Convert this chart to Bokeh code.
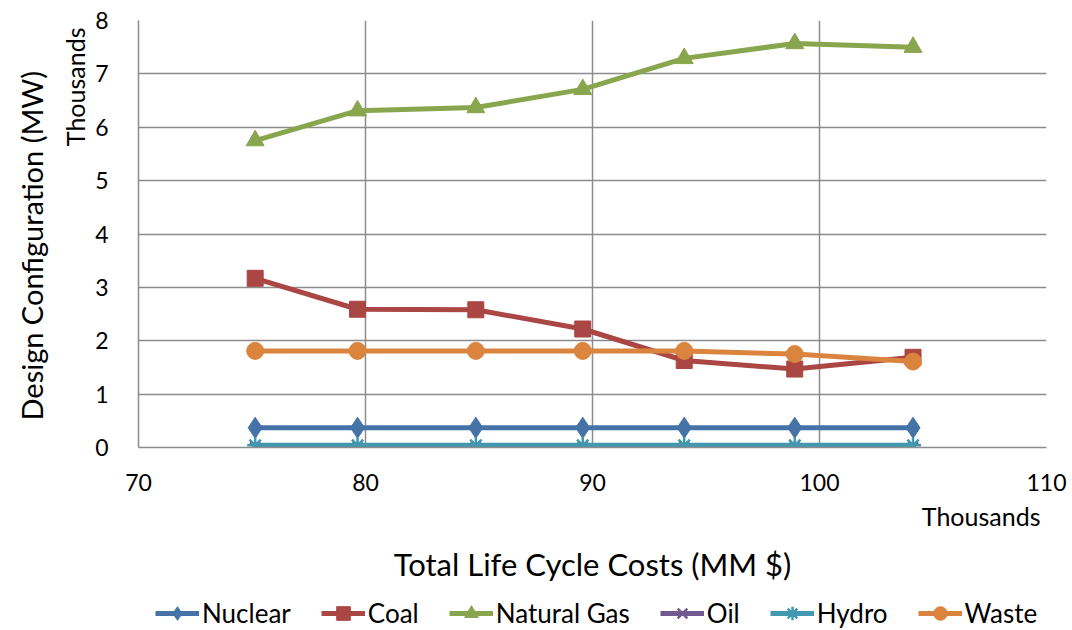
from bokeh.embed import file_html
from bokeh.layouts import column
from bokeh.models import FixedTicker, Legend, LegendItem, Title
from bokeh.plotting import figure
from bokeh.resources import INLINE

# Total life cycle costs (thousands of MM $) for each design configuration
cost = [75.14, 79.65, 84.86, 89.57, 94.04, 98.91, 104.12]

# Installed capacity per source (thousands of MW)
nuclear = [0.37, 0.37, 0.37, 0.37, 0.37, 0.37, 0.37]
coal = [3.17, 2.59, 2.58, 2.22, 1.63, 1.47, 1.69]
natural_gas = [5.75, 6.31, 6.37, 6.71, 7.29, 7.57, 7.50]
oil = [0.01, 0.01, 0.01, 0.01, 0.01, 0.01, 0.01]
hydro = [0.04, 0.04, 0.04, 0.04, 0.04, 0.04, 0.04]
waste = [1.81, 1.81, 1.81, 1.81, 1.81, 1.75, 1.61]

x_ticks = [70, 80, 90, 100, 110]
y_ticks = [0, 1, 2, 3, 4, 5, 6, 7, 8]

FONT = "Lato"
GRID = "#8c8c8c"

p = figure(
    width=1072, height=588,
    x_range=(70, 110), y_range=(0, 8),
    output_backend="svg", toolbar_location=None,
    min_border_left=138, min_border_right=26,
    min_border_top=20, min_border_bottom=141,
    background_fill_color="white", border_fill_color="white",
)
p.outline_line_color = None

for ax in (p.xaxis[0], p.yaxis[0]):
    ax.axis_line_color = GRID
    ax.axis_line_width = 1.5
    ax.major_tick_line_color = None
    ax.minor_tick_line_color = None
    ax.major_label_text_font = FONT
    ax.major_label_text_font_size = "23px"
    ax.major_label_text_color = "#000000"
    ax.major_label_standoff = 20

p.xaxis.ticker = FixedTicker(ticks=x_ticks)
p.yaxis.ticker = FixedTicker(ticks=y_ticks)
p.yaxis.major_label_standoff = 24

p.xgrid.ticker = FixedTicker(ticks=x_ticks)
p.ygrid.ticker = FixedTicker(ticks=y_ticks)
for g in (p.xgrid[0], p.ygrid[0]):
    g.grid_line_color = GRID
    g.grid_line_width = 1.5

series = [
    ("Nuclear", nuclear, "#4572A7", "diamond", 21),
    ("Coal", coal, "#AA4643", "square", 16),
    ("Natural Gas", natural_gas, "#89A54E", "triangle", 18),
    ("Oil", oil, "#71588F", "x", 14),
    ("Hydro", hydro, "#4198AF", "asterisk", 16),
    ("Waste", waste, "#DB843D", "circle", 17),
]


def draw(fig, name, xs, ys, color, marker, size):
    ln = fig.line(xs, ys, line_color=color, line_width=5)
    if marker in ("x", "asterisk"):
        sc = fig.scatter(xs, ys, marker=marker, size=size,
                         line_color=color, line_width=2.5, fill_color=None)
    else:
        sc = fig.scatter(xs, ys, marker=marker, size=size,
                         fill_color=color, line_color=color, line_width=1)
    return LegendItem(label=name, renderers=[ln, sc])


for name, vals, color, marker, size in series:
    draw(p, name, cost, vals, color, marker, size)


def caption(text, size, align, standoff, offset=0):
    return Title(text=text, align=align, standoff=standoff, offset=offset,
                 text_font=FONT, text_font_size=size,
                 text_font_style="normal", text_color="#000000")


# Bottom side: unit caption, then the axis title
p.add_layout(caption("Thousands", "25px", "right", 11, 6), "below")
p.add_layout(caption("Total Life Cycle Costs (MM $)", "31px", "center", 12), "below")

# Left side: unit caption, then the axis title (anchored at the bottom end)
p.add_layout(caption("Thousands", "25px", "right", 6, 7), "left")
p.add_layout(caption("Design Configuration (MW)", "29px", "left", 12, 27), "left")

# Legend strip underneath the chart; its key glyphs come from the same
# series, drawn outside this strip's visible range so only the key shows
key = figure(
    width=1072, height=42, x_range=(0, 1), y_range=(0, 1),
    output_backend="svg", toolbar_location=None,
    x_axis_location=None, y_axis_location=None,
    min_border=0, background_fill_color="white", border_fill_color="white",
)
key.outline_line_color = None
key.grid.visible = False

items = [draw(key, name, cost, vals, color, marker, size)
         for name, vals, color, marker, size in series]

legend = Legend(
    items=items, orientation="horizontal", location=(17, 0),
    label_text_font=FONT, label_text_font_size="26px",
    label_text_color="#000000",
    glyph_width=44, glyph_height=34, label_height=26,
    label_standoff=3, spacing=30, padding=0, margin=0,
    border_line_color=None, background_fill_alpha=0,
)
key.add_layout(legend, "center")

open("out.html", "w").write(file_html(column(p, key, spacing=0), INLINE))
